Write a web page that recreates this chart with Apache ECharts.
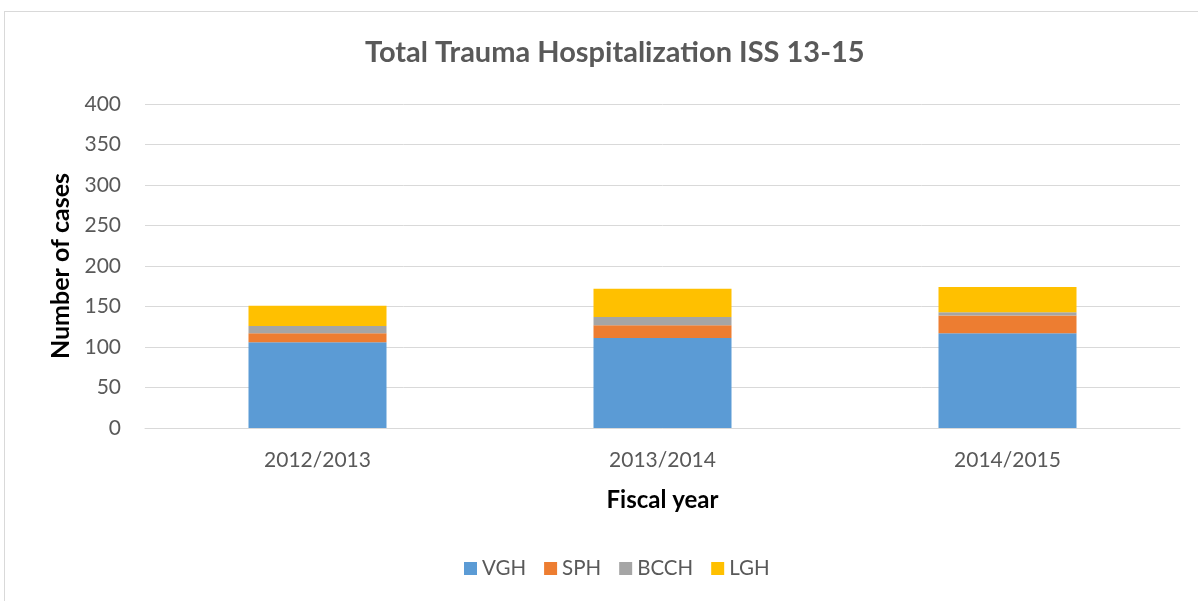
<!DOCTYPE html>
<html>
<head>
<meta charset="utf-8">
<script src="https://cdn.jsdelivr.net/npm/echarts@6/dist/echarts.min.js"></script>
<style>
html,body{margin:0;padding:0;background:#fff;}
#frame{position:absolute;left:4px;top:11px;width:1200px;height:600px;border:1px solid #d9d9d9;box-sizing:border-box;}
#chart{position:absolute;left:0;top:0;width:1198px;height:601px;}
</style>
</head>
<body>
<div id="frame"></div>
<div id="chart"></div>
<script>
const categories = ['2012/2013', '2013/2014', '2014/2015'];
const vgh = [106, 111, 117];
const sph = [11, 16, 22];
const bcch = [9, 10, 4];
const lgh = [25, 35, 31];
const seriesNames = ['VGH', 'SPH', 'BCCH', 'LGH'];
const colors = ['#5b9bd5', '#ed7d31', '#a5a5a5', '#ffc000'];

const font = 'Lato, "Open Sans", sans-serif';
const chart = echarts.init(document.getElementById('chart'));
const dataSets = [vgh, sph, bcch, lgh];
chart.setOption({
  animation: false,
  title: {
    text: 'Total Trauma Hospitalization ISS 13-15',
    left: 360, top: 33,
    textStyle: { fontFamily: font, fontSize: 29, fontWeight: 'bold', color: '#595959' }
  },
  legend: {
    bottom: 17, left: 459,
    itemWidth: 13, itemHeight: 13, itemGap: 18,
    icon: 'rect',
    textStyle: { fontFamily: font, fontSize: 20.5, color: '#595959' },
    data: seriesNames
  },
  grid: { left: 145, right: 18, top: 104, bottom: 173 },
  xAxis: {
    type: 'category', data: categories,
    name: 'Fiscal year', nameLocation: 'middle', nameGap: 60,
    nameTextStyle: { fontFamily: font, fontSize: 24, fontWeight: 'bold', color: '#000' },
    axisLine: { lineStyle: { color: '#d9d9d9' } },
    axisTick: { show: false },
    axisLabel: { fontFamily: font, fontSize: 21, color: '#595959', margin: 22 }
  },
  yAxis: {
    type: 'value', min: 0, max: 400, interval: 50,
    name: 'Number of cases', nameLocation: 'middle', nameGap: 72,
    nameTextStyle: { fontFamily: font, fontSize: 25, fontWeight: 'bold', color: '#000' },
    axisLine: { show: false }, axisTick: { show: false },
    splitLine: { lineStyle: { color: '#d9d9d9', width: 1 } },
    axisLabel: { fontFamily: font, fontSize: 21, color: '#595959', margin: 24 }
  },
  series: seriesNames.map((n, i) => ({
    name: n, type: 'bar', stack: 'total', data: dataSets[i],
    barWidth: '40%',
    itemStyle: { color: colors[i] }
  }))
});
</script>
</body>
</html>
